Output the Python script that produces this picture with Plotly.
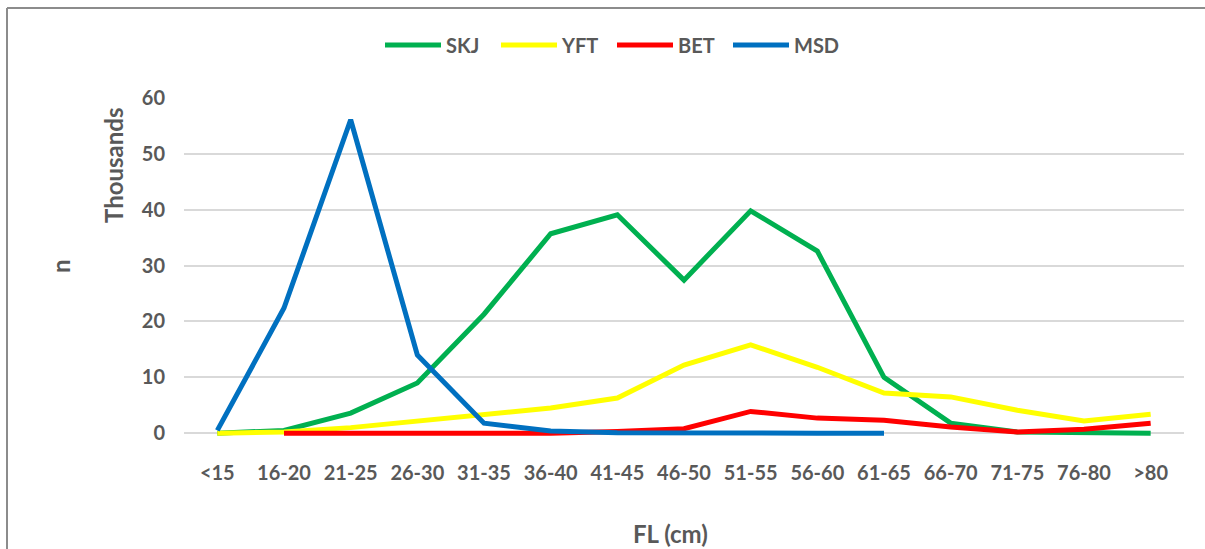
import plotly.graph_objects as go

categories = ["<15", "16-20", "21-25", "26-30", "31-35", "36-40", "41-45", "46-50",
              "51-55", "56-60", "61-65", "66-70", "71-75", "76-80", ">80"]

skj = [0.0, 0.5, 3.6, 9.0, 21.3, 35.7, 39.1, 27.4, 39.8, 32.6, 10.0, 1.8, 0.2, 0.0, 0.0]
yft = [0.0, 0.2, 1.0, 2.2, 3.2, 4.5, 6.3, 12.2, 15.8, 11.8, 7.2, 6.5, 4.1, 2.2, 3.4]
bet = [None, 0.0, 0.0, 0.0, 0.0, 0.0, 0.3, 0.8, 3.9, 2.7, 2.3, 1.1, 0.2, 0.7, 1.8]
msd = [0.5, 22.4, 56.1, 14.0, 1.8, 0.4, 0.1, 0.0, 0.0, 0.0, 0.0, None, None, None, None]

series = [("SKJ", skj, "#00b050"), ("YFT", yft, "#ffff00"),
          ("BET", bet, "#ff0000"), ("MSD", msd, "#0070c0")]

FONT = "Lato"
GREY = "#595959"

fig = go.Figure()
for name, vals, col in series:
    fig.add_trace(go.Scatter(x=categories, y=vals, name=name, mode="lines",
                             line=dict(color=col, width=5), connectgaps=False))

W, H = 1205, 549
YMIN, YMAX = -0.5, 60
PX_PER_UNIT = (433 - 98) / 60.0
L, R, T = 184, 21, 98
B = 116 - (-YMIN) * PX_PER_UNIT
pw, ph = W - L - R, H - T - B

def px_x(p):
    return (p - L) / pw

def px_y(p):
    return (H - B - p) / ph

fig.update_layout(
    width=W, height=H,
    margin=dict(l=L, r=R, t=T, b=B),
    paper_bgcolor="white", plot_bgcolor="white",
    font=dict(family=FONT, color=GREY, size=19),
    showlegend=True,
    legend=dict(orientation="h", x=px_x(380), xanchor="left", y=px_y(45), yanchor="middle",
                font=dict(family=FONT, size=20, color=GREY, weight="bold"),
                itemwidth=56, entrywidth=45, entrywidthmode="pixels",
                tracegroupgap=0, bgcolor="rgba(0,0,0,0)"),
    xaxis=dict(type="category", range=[-0.5, len(categories) - 0.5],
               showgrid=False, showline=False, zeroline=False,
               tickfont=dict(family=FONT, size=20, color=GREY, weight="bold"),
               ticks="outside", ticklen=0, ticklabelstandoff=19,
               title=None),
    yaxis=dict(range=[YMIN, YMAX], tick0=0, dtick=10, showgrid=True, gridcolor="#d9d9d9",
               gridwidth=1.5, zeroline=True, zerolinecolor="#d9d9d9", zerolinewidth=1.5,
               showline=False, ticks="", ticklabelstandoff=18,
               tickfont=dict(family=FONT, size=20, color=GREY, weight="bold"),
               title=None),
    annotations=[
        dict(text="<b>Thousands</b>", xref="paper", yref="paper", x=px_x(113), y=px_y(166),
             textangle=-90, showarrow=False, font=dict(family=FONT, size=24, color=GREY),
             xanchor="center", yanchor="middle"),
        dict(text="<b>n</b>", xref="paper", yref="paper", x=px_x(60), y=px_y(266),
             textangle=-90, showarrow=False, font=dict(family=FONT, size=24, color=GREY),
             xanchor="center", yanchor="middle"),
        dict(text="<b>FL (cm)</b>", xref="paper", yref="paper", x=px_x(670), y=px_y(533),
             showarrow=False, font=dict(family=FONT, size=24, color=GREY),
             xanchor="center", yanchor="middle"),
    ],
    shapes=[
        dict(type="line", xref="paper", yref="paper", x0=px_x(7), x1=px_x(1210),
             y0=px_y(8), y1=px_y(8), line=dict(color="#8c8c8c", width=2)),
        dict(type="line", xref="paper", yref="paper", x0=px_x(7), x1=px_x(7),
             y0=px_y(8), y1=px_y(560), line=dict(color="#8c8c8c", width=2)),
    ],
)

fig.write_html("out.html", config={"displayModeBar": False},
               post_script="document.body.style.margin='0';document.body.style.overflow='hidden';")
